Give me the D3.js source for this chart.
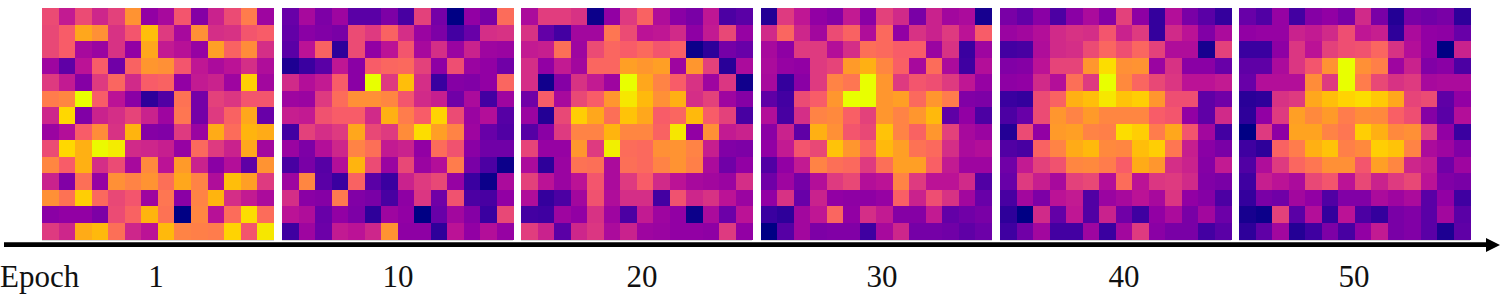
<!DOCTYPE html>
<html><head><meta charset="utf-8">
<script src="https://cdn.jsdelivr.net/npm/d3@7"></script>
<style>html,body{margin:0;padding:0;background:#fff}svg{display:block}text{font-family:"Liberation Serif","Times New Roman",serif;fill:#111}</style>
</head><body><div id="chart"></div>
<script>
const epochs = [1,10,20,30,40,50];
const axisTitle = "Epoch";
const epoch1 = [
[55,42,55,45,52,77,30,35,58,27,44,55,70,33],
[54,60,82,76,48,58,87,50,35,76,47,48,58,60],
[54,60,35,32,48,30,82,42,39,31,80,62,75,47],
[33,18,40,60,22,62,78,76,58,41,36,40,47,37],
[50,42,27,50,63,46,60,62,30,42,44,33,90,34],
[70,73,100,60,40,28,8,15,67,23,52,49,58,58],
[45,92,26,44,47,53,44,33,68,23,50,62,82,20],
[32,38,60,75,48,85,27,26,50,32,83,65,85,83],
[55,92,84,99,96,46,45,43,31,64,50,44,82,34],
[73,60,84,47,55,35,74,40,79,44,28,38,18,77],
[44,26,66,31,76,72,77,66,82,72,37,87,80,50],
[76,67,90,64,54,58,33,68,28,72,85,47,42,36],
[28,30,30,25,55,62,85,67,0,73,39,65,93,65],
[50,45,83,86,66,45,40,86,72,71,70,91,58,95]];
const epoch10 = [
[20,35,25,33,17,17,25,13,52,23,0,30,24,65],
[19,28,26,24,55,50,62,47,32,25,12,20,47,48],
[17,40,62,8,55,30,40,58,35,47,32,44,33,32],
[5,10,17,41,28,60,63,64,52,29,56,32,30,22],
[46,38,42,60,28,100,50,87,47,10,27,26,30,63],
[33,32,50,65,76,76,73,58,46,43,22,36,12,33],
[43,42,57,60,60,46,84,70,60,91,55,32,38,16],
[12,52,47,50,82,54,50,75,93,80,72,33,20,15],
[32,25,38,45,72,66,42,44,30,65,57,28,22,22],
[13,24,16,38,85,55,32,54,32,38,70,24,14,2],
[33,73,17,10,62,17,10,44,50,54,31,10,2,36],
[47,28,27,69,26,24,13,29,49,22,57,14,13,30],
[40,37,20,30,25,8,33,30,0,20,34,27,10,54],
[11,33,21,42,40,45,77,29,29,8,40,30,38,31]];
const epoch20 = [
[36,51,51,48,2,30,50,62,37,28,24,41,14,17],
[48,19,12,34,34,68,55,40,41,46,29,42,54,31],
[42,43,66,33,55,63,60,64,58,61,2,8,23,20],
[47,30,42,34,63,63,80,78,80,33,78,52,7,36],
[47,3,27,48,42,33,100,82,72,60,48,33,49,3],
[22,60,35,54,60,78,95,86,76,84,47,52,33,27],
[32,6,54,90,82,66,88,82,60,63,86,60,52,13],
[16,28,50,72,72,85,73,73,62,95,30,76,42,44],
[53,31,31,78,50,97,65,64,76,77,72,43,26,25],
[36,8,32,67,66,36,66,64,72,77,71,36,22,30],
[52,40,32,40,58,36,50,60,46,40,35,34,32,47],
[37,9,14,34,57,37,47,47,12,57,45,48,40,32],
[12,11,33,30,48,33,14,42,33,30,2,36,21,40],
[51,44,17,45,49,36,44,33,32,30,30,29,50,30]];
const epoch30 = [
[6,50,41,30,27,42,28,52,46,24,44,34,36,4],
[46,63,45,34,55,62,37,64,30,48,44,50,40,60],
[35,29,50,50,38,47,66,64,60,60,32,48,10,33],
[36,31,30,50,53,79,84,73,61,35,65,36,11,38],
[35,9,28,50,72,68,100,78,50,58,56,50,41,31],
[18,12,55,60,78,100,100,78,80,64,78,70,26,25],
[38,13,47,72,74,61,52,78,72,78,86,18,30,14],
[28,44,18,84,76,58,54,88,72,62,78,52,35,32],
[30,42,58,54,88,78,63,86,80,67,64,47,36,38],
[15,30,42,72,66,64,50,66,80,80,61,42,33,33],
[22,33,23,38,50,54,38,40,72,50,40,40,46,15],
[30,48,20,44,30,29,29,31,61,44,56,48,34,20],
[10,8,34,41,63,30,47,42,27,27,42,19,22,24],
[0,16,34,25,26,26,11,35,45,23,23,22,18,21]];
const epoch40 = [
[24,19,28,14,28,36,27,52,29,9,38,24,17,9],
[32,34,38,46,48,47,58,44,50,9,46,40,26,36],
[12,13,37,46,47,55,63,56,63,52,37,37,4,52],
[26,27,40,53,53,78,93,76,77,32,48,28,28,20],
[29,30,46,38,66,50,100,74,63,54,49,40,40,42],
[10,9,55,62,84,87,95,88,90,78,56,56,18,22],
[14,20,55,78,72,79,73,73,73,60,58,30,18,46],
[6,55,30,79,80,72,71,93,90,70,82,58,34,12],
[15,13,62,72,83,86,74,73,87,90,68,43,28,24],
[22,42,52,57,73,74,70,60,83,78,47,44,27,42],
[20,50,43,35,52,54,38,65,40,49,50,46,26,24],
[13,34,25,40,42,15,32,35,40,35,49,30,27,14],
[8,0,46,19,41,15,44,22,11,30,36,24,34,21],
[11,22,34,12,12,33,10,34,50,28,24,24,12,17]];
const epoch50 = [
[20,15,31,12,27,30,24,46,24,6,24,22,24,8],
[30,31,31,44,42,46,56,41,43,8,36,30,29,20],
[10,10,29,49,40,52,56,57,63,48,38,30,0,44],
[18,18,36,49,58,77,100,76,71,33,44,26,28,14],
[20,38,38,38,75,50,100,70,54,48,50,35,36,36],
[7,8,48,50,82,87,91,93,89,82,53,55,18,30],
[8,30,50,80,74,79,70,75,74,61,56,27,17,38],
[0,50,29,81,81,72,68,90,84,74,76,52,30,10],
[11,8,62,70,84,88,71,74,90,88,72,36,33,26],
[15,37,50,63,68,76,76,58,80,73,45,42,22,33],
[11,43,40,36,54,58,40,54,44,50,54,40,26,24],
[9,24,22,34,30,15,26,26,36,33,36,17,30,11],
[4,2,52,17,38,9,40,14,9,24,26,17,34,17],
[8,18,34,6,11,25,13,30,42,24,26,17,5,18]];
const panels = [epoch1,epoch10,epoch20,epoch30,epoch40,epoch50];

const W=1500,H=294;
const panelLeft=[42.3,282,521,760.7,1000,1239];
const panelTop=8, panelSize=231.3;
const labelX=[156,398,642,882,1124,1354];
const color=d3.scaleLinear()
 .domain([0,10,20,30,40,50,60,70,78,85,92,100])
 .range(["#000084","#3a00a0","#6800a8","#9200a4","#bb1296","#de3a80","#f85c68","#ff7c4c","#ff962e","#ffb40e","#ffd800","#e8ff00"])
 .interpolate(d3.interpolateRgb);

const svg=d3.select("#chart").append("svg").attr("width",W).attr("height",H);
const idx=d3.range(14);
panels.forEach((grid,p)=>{
  const x=d3.scaleBand().domain(idx).range([panelLeft[p],panelLeft[p]+panelSize]);
  const y=d3.scaleBand().domain(idx).range([panelTop,panelTop+panelSize]);
  const g=svg.append("g").attr("shape-rendering","crispEdges");
  g.append("rect").attr("x",panelLeft[p]).attr("y",panelTop+panelSize)
    .attr("width",panelSize).attr("height",1.5).attr("fill","#d8d8d8");
  g.selectAll("g").data(grid).join("g").each(function(row,r){
    d3.select(this).selectAll("rect").data(row).join("rect")
      .attr("x",(d,c)=>x(c)).attr("y",y(r))
      .attr("width",x.bandwidth()+(c=>0.3)()).attr("height",y.bandwidth()+0.3)
      .attr("fill",d=>color(d));
  });
});
svg.append("line").attr("x1",4).attr("x2",1488).attr("y1",244.7).attr("y2",244.7)
  .attr("stroke","#000").attr("stroke-width",4.8);
const arrow=d3.line();
svg.append("path").attr("d",arrow([[1486,238],[1500,245],[1486,252]])+"Z").attr("fill","#000");
const fs=31;
svg.selectAll("text.lab").data(epochs).join("text").attr("class","lab")
  .attr("x",(d,i)=>labelX[i]).attr("y",286.5).attr("text-anchor","middle")
  .attr("font-size",fs).text(d=>d);
svg.append("text").attr("x",0).attr("y",286.5).attr("font-size",fs).text(axisTitle);
</script></body></html>
